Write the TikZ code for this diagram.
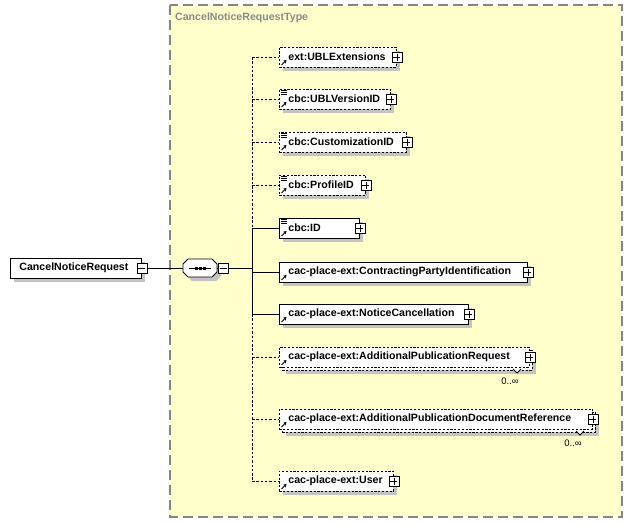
\documentclass[tikz,border=0pt]{standalone}
\usepackage{fontspec}
\setmainfont{Liberation Sans}
\usetikzlibrary{shadows,arrows.meta}
\definecolor{bgyellow}{HTML}{FFFFCC}
\definecolor{framegray}{HTML}{858585}
\definecolor{shadowgray}{HTML}{C4C4C4}
\definecolor{titlegray}{HTML}{888888}
\tikzset{
  shd/.style={drop shadow={shadow xshift=4pt, shadow yshift=-4pt, fill=shadowgray, opacity=1}},
  lblfont/.style={font=\bfseries\fontsize{10.6}{12}\selectfont},
  elembox/.style={draw=black, fill=white, line width=0.9pt, minimum height=20pt, inner xsep=0pt, inner ysep=0pt, anchor=west, lblfont, align=left},
  optbox/.style={elembox, dash pattern=on 2.2pt off 1.6pt},
  conn/.style={line width=0.9pt},
  optconn/.style={conn, dash pattern=on 2.5pt off 1.8pt},
  pm/.style={draw=black, fill=white, line width=0.8pt, minimum width=10pt, minimum height=10pt, inner sep=0pt},
  plusbox/.style={pm, path picture={\draw[line width=0.8pt] ([xshift=-3.5pt]path picture bounding box.center) -- ([xshift=3.5pt]path picture bounding box.center); \draw[line width=0.8pt] ([yshift=-3.5pt]path picture bounding box.center) -- ([yshift=3.5pt]path picture bounding box.center);}},
  minusbox/.style={pm, path picture={\draw[line width=0.8pt] ([xshift=-3.5pt]path picture bounding box.center) -- ([xshift=3.5pt]path picture bounding box.center);}},
  cardlbl/.style={font=\fontsize{9.5}{11}\selectfont, inner sep=0pt}
}
\newcommand{\refarrow}[1]{\draw[line width=1pt, -{Stealth[length=3.2pt,width=3.6pt]}] ([xshift=2.5pt,yshift=2.5pt]#1.south west) -- ++(5,-5);}
\newcommand{\simplelines}[1]{\foreach \dy in {2,4,6} {\draw[line width=0.6pt] ([xshift=2pt,yshift=-\dy pt]#1.north west) -- ++(5.5,0);}}
\newcommand{\notch}[2]{\draw[line width=0.8pt, fill=white] (#1-4,#2-1) -- (#1,#2+3) -- (#1+4,#2-1);}
\newcommand{\octpath}[2]{(#1+5,#2-9) -- (#1+29,#2-9) -- (#1+34,#2-4) -- (#1+34,#2+4) -- (#1+29,#2+9) -- (#1+5,#2+9) -- (#1,#2+4) -- (#1,#2-4) -- cycle}
\begin{document}
\begin{tikzpicture}[x=1pt,y=-1pt]
\useasboundingbox (0,0) rectangle (634,523);
\fill[white] (0,0) rectangle (634,523);
% frame
\fill[bgyellow] (170,5) rectangle (622,517);
\draw[framegray, line width=1.2pt, dash pattern=on 10pt off 5pt] (170,5) rectangle (622,517);
\node[anchor=west, inner sep=0pt, lblfont, text=titlegray] (title) at (175,18) {CancelNoticeRequestType};

% root
\node[elembox, shd, text width=131pt] (root) at (10,268) {\hspace*{9pt}CancelNoticeRequest};
\node[minusbox] (rootm) at (root.east) {};

% sequence compositor
\fill[shadowgray] \octpath{187}{272};
\draw[line width=0.9pt, fill=white] \octpath{183}{268};
\node[minimum width=34pt, minimum height=18pt, inner sep=0pt] (seq) at (200,268) {};
\draw[line width=0.9pt] ([xshift=-11pt]seq.center) -- ([xshift=11pt]seq.center);
\foreach \dx in {-4,0,4} {\fill ([xshift=\dx pt-1.5pt,yshift=1.5pt]seq.center) rectangle ++(3,3);}
\node[minusbox] (seqm) at (223,268) {};
\draw[conn] (rootm.east) -- (seq.west);
\draw[conn] (seq.east) -- (seqm.west);

% bus coordinates
\coordinate (bs) at (252,268);
\foreach \i/\y in {1/57,2/99,3/142,4/185,5/228,6/272,7/314,8/357,9/419,10/481} {\coordinate (b\i) at (252,\y);}
\draw[conn] (seqm.east) -- (bs);
\draw[optconn] (b1) -- (b5);
\draw[conn] (b5) -- (b7);
\draw[optconn] (b7) -- (b10);

% children
\node[optbox, shd, text width=117pt] (e1) at (279,57) {\hspace*{9pt}ext:UBLExtensions};
\node[optbox, shd, text width=111pt] (e2) at (279,99) {\hspace*{9pt}cbc:UBLVersionID};
\node[optbox, shd, text width=127pt] (e3) at (279,142) {\hspace*{9pt}cbc:CustomizationID};
\node[optbox, shd, text width=86pt] (e4) at (279,185) {\hspace*{9pt}cbc:ProfileID};
\node[elembox, shd, text width=80pt] (e5) at (279,228) {\hspace*{9pt}cbc:ID};
\node[elembox, shd, text width=248pt] (e6) at (279,272) {\hspace*{9pt}cac-place-ext:ContractingPartyIdentification};
\node[elembox, shd, text width=189pt] (e7) at (279,314) {\hspace*{9pt}cac-place-ext:NoticeCancellation};
\node[optbox, shd, text width=250pt] (e8b) at (282,360) {};
\notch{517}{370}
\node[optbox, text width=250pt] (e8) at (279,357) {\hspace*{9pt}cac-place-ext:AdditionalPublicationRequest};
\node[optbox, shd, text width=313pt] (e9b) at (282,422) {};
\notch{580}{432}
\node[optbox, text width=313pt] (e9) at (279,419) {\hspace*{9pt}cac-place-ext:AdditionalPublicationDocumentReference};
\node[optbox, shd, text width=114pt] (e10) at (279,481) {\hspace*{9pt}cac-place-ext:User};

\node[cardlbl] (c8) at (510,381) {0..∞};
\node[cardlbl] (c9) at (573,443) {0..∞};

\foreach \i in {1,...,10} {\node[plusbox] (p\i) at (e\i.east) {}; \refarrow{e\i}}
\foreach \i in {2,3,4,5} {\simplelines{e\i}}

% connectors
\foreach \i in {1,2,3,4,8,9,10} {\draw[optconn] (b\i) -- (e\i.west);}
\foreach \i in {5,6,7} {\draw[conn] (b\i) -- (e\i.west);}
\end{tikzpicture}
\end{document}
